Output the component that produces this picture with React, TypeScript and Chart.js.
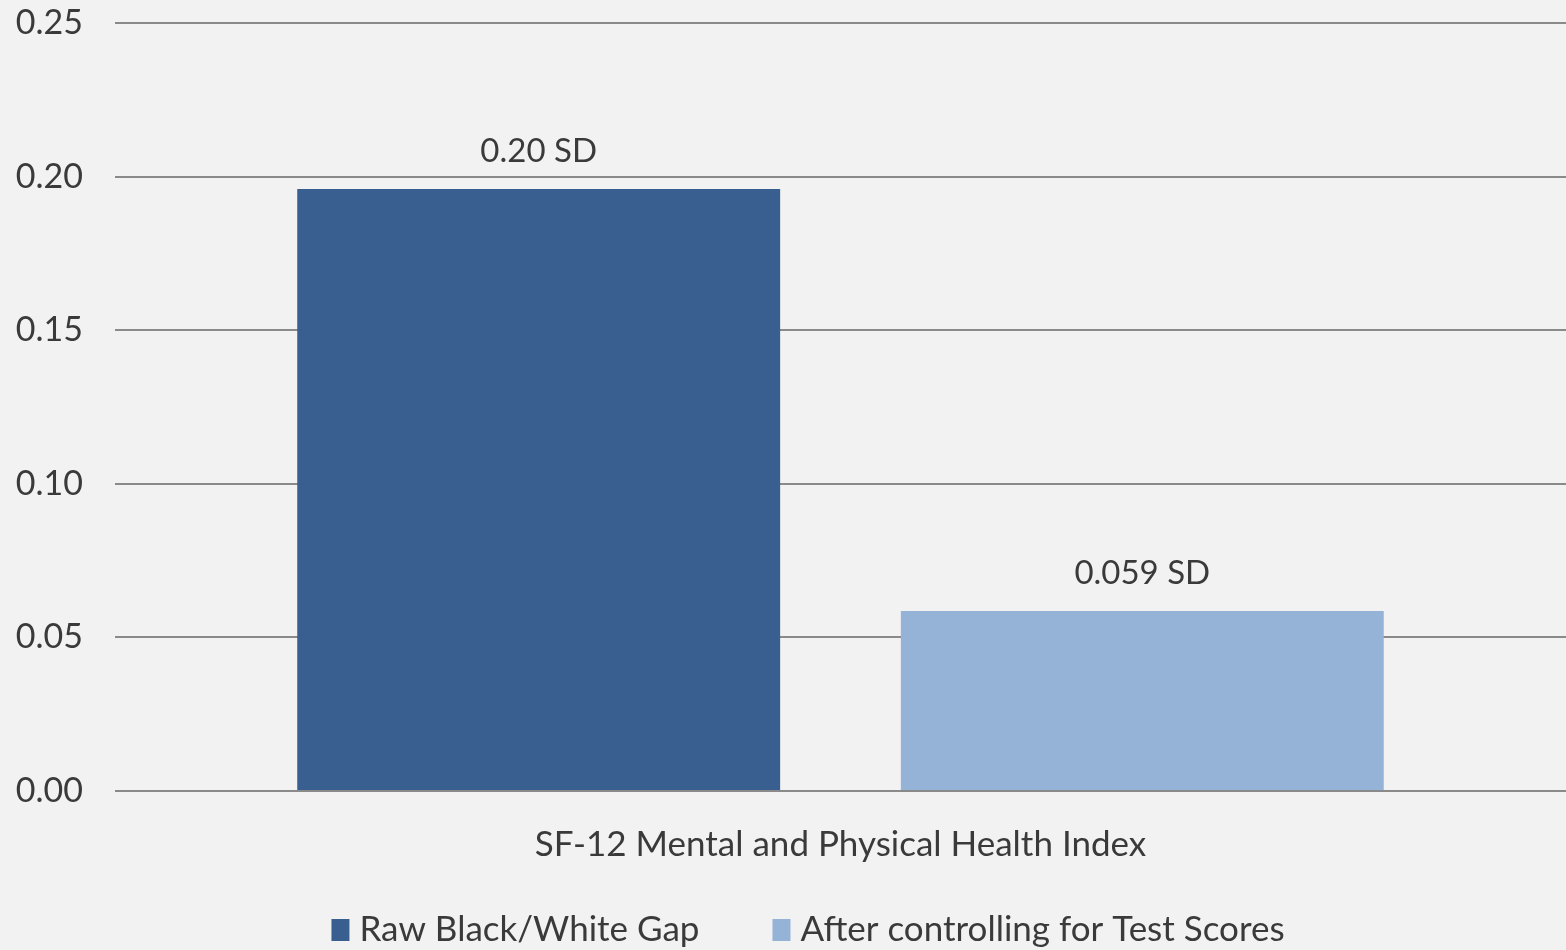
import React, { useEffect, useRef } from "react";
import { Chart, registerables } from "chart.js";

Chart.register(...registerables);

const categories = ["SF-12 Mental and Physical Health Index"];
const seriesNames = ["Raw Black/White Gap", "After controlling for Test Scores"];
const seriesColors = ["#385f90", "#95b3d7"];
const rawGap = [0.196];
const afterControl = [0.0586];
const valueLabels = [["0.20 SD"], ["0.059 SD"]];
const yTicks = [0, 0.05, 0.1, 0.15, 0.2, 0.25];

const FONT = "Lato, 'Open Sans', sans-serif";
const TEXT = "#3a3a3a";

const labelPlugin = {
  id: "barLabels",
  afterDatasetsDraw(chart: any) {
    const ctx = chart.ctx;
    ctx.save();
    ctx.font = `33px ${FONT}`;
    ctx.fillStyle = TEXT;
    ctx.textAlign = "center";
    ctx.textBaseline = "middle";
    chart.data.datasets.forEach((ds: any, i: number) => {
      const meta = chart.getDatasetMeta(i);
      meta.data.forEach((bar: any, j: number) => {
        ctx.fillText(valueLabels[i][j], bar.x, bar.y - 38);
      });
    });
    ctx.restore();
  },
};

const legendPlugin = {
  id: "bottomLegend",
  afterDraw(chart: any) {
    const ctx = chart.ctx;
    ctx.save();
    ctx.font = `35px ${FONT}`;
    ctx.textBaseline = "middle";
    ctx.textAlign = "left";
    const boxW = 18;
    const boxH = 22;
    const gap = 10;
    const itemGap = 73;
    const cy = 930;
    const items = chart.data.datasets.map((ds: any) => ({
      text: ds.label,
      color: ds.backgroundColor,
      w: ctx.measureText(ds.label).width,
    }));
    const total =
      items.reduce((s: number, it: any) => s + boxW + gap + it.w, 0) + itemGap * (items.length - 1);
    let x = (chart.width - total) / 2 + 25;
    items.forEach((it: any) => {
      ctx.fillStyle = it.color;
      ctx.fillRect(x, cy - boxH / 2, boxW, boxH);
      ctx.fillStyle = TEXT;
      ctx.fillText(it.text, x + boxW + gap, cy);
      x += boxW + gap + it.w + itemGap;
    });
    ctx.restore();
  },
};

export default function App() {
  const ref = useRef<HTMLCanvasElement | null>(null);
  useEffect(() => {
    document.body.style.margin = "0";
    const chart = new Chart(ref.current as HTMLCanvasElement, {
      type: "bar",
      data: {
        labels: categories,
        datasets: [
          {
            label: seriesNames[0],
            data: rawGap,
            backgroundColor: seriesColors[0],
            categoryPercentage: 0.832,
            barPercentage: 0.8,
          },
          {
            label: seriesNames[1],
            data: afterControl,
            backgroundColor: seriesColors[1],
            categoryPercentage: 0.832,
            barPercentage: 0.8,
          },
        ],
      },
      options: {
        animation: false,
        responsive: false,
        maintainAspectRatio: false,
        layout: { padding: { top: 23, right: 0, left: 0, bottom: 84 } },
        scales: {
          x: {
            afterFit(axis: any) {
              axis.height = 75;
            },
            grid: { display: false, drawTicks: false },
            border: { display: false },
            ticks: { color: TEXT, font: { family: FONT, size: 35, lineHeight: 1.2 }, padding: 33 },
          },
          y: {
            min: 0,
            max: 0.25,
            afterFit(axis: any) {
              axis.width = 115;
              axis.paddingTop = 0;
              axis.paddingBottom = 0;
            },
            afterBuildTicks(axis: any) {
              axis.ticks = yTicks.map((v) => ({ value: v }));
            },
            grid: { color: "#8a8a8a", lineWidth: 2, drawTicks: false },
            border: { display: false },
            ticks: {
              color: TEXT,
              font: { family: FONT, size: 34 },
              padding: 32,
              callback: (v: any) => Number(v).toFixed(2),
            },
          },
        },
        plugins: {
          legend: { display: false },
          tooltip: { enabled: false },
        },
      },
      plugins: [labelPlugin, legendPlugin],
    });
    return () => chart.destroy();
  }, []);
  return (
    <div style={{ position: "fixed", left: 0, top: 0, width: 1566, height: 950, background: "#f2f2f2" }}>
      <canvas ref={ref} width={1566} height={950} style={{ display: "block" }} />
    </div>
  );
}
